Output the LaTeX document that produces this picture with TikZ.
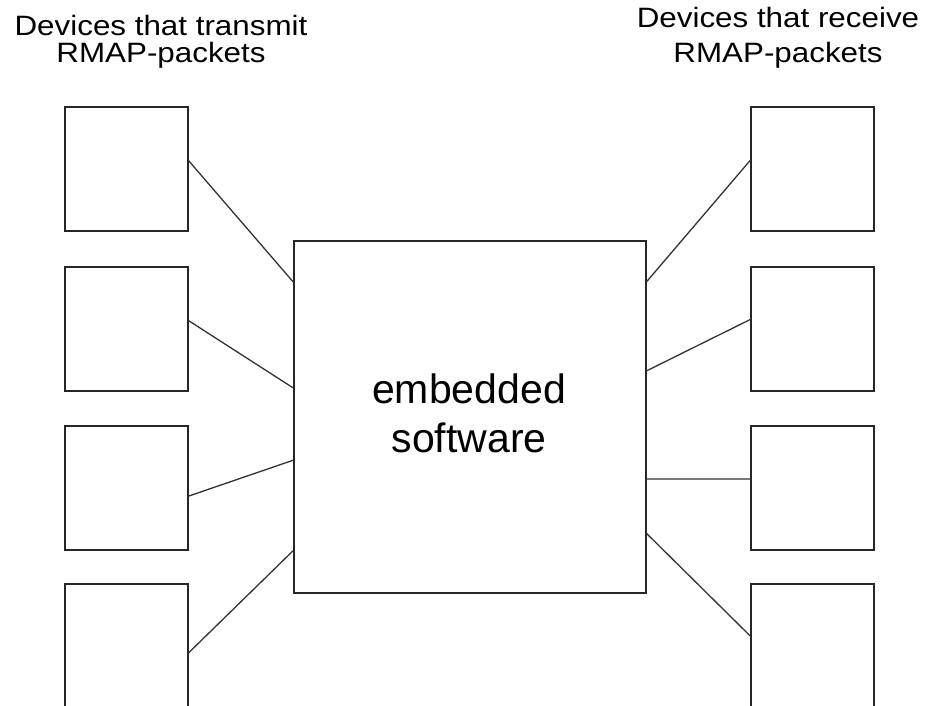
\documentclass[tikz,border=0pt]{standalone}
\usepackage{fontspec}
\setmainfont{Liberation Sans}
\newfontfamily\titlefont[FakeStretch=1.12]{Liberation Sans}
\usetikzlibrary{calc}
\begin{document}
\begin{tikzpicture}[x=1pt,y=-1pt,
  device/.style={draw=black!85,line width=1.6pt,minimum width=123pt,minimum height=124pt,inner sep=0pt,anchor=north west},
  core/.style={draw=black!85,line width=1.6pt,minimum width=352pt,minimum height=352pt,inner sep=0pt,anchor=north west},
  wire/.style={draw=black!80,line width=1.3pt},
  title/.style={font=\titlefont\fontsize{28}{27}\selectfont,align=center,inner sep=0pt,anchor=base}]
\useasboundingbox (0,0) rectangle (929,706);
\fill[white] (0,0) rectangle (929,706);
% left devices
\node[device] (L1) at (64,106) {};
\node[device] (L2) at (64,266) {};
\node[device] (L3) at (64,425) {};
\node[device] (L4) at (64,583) {};
% right devices
\node[device] (R1) at (750,106) {};
\node[device] (R2) at (750,266) {};
\node[device] (R3) at (750,425) {};
\node[device] (R4) at (750,583) {};
% central box
\node[core] (C) at (293,240) {};
\node[font=\fontsize{41}{49}\selectfont,align=center,inner sep=0pt,anchor=base] (CT) at (469,452) {embedded\\software};
% titles
\node[title] (TL) at (161,63) {Devices that transmit\\RMAP-packets};
\node[title] (TR) at (778,63) {Devices that receive\\[8pt]RMAP-packets};
% wires left
\draw[wire] ($(L1.north east)!0.435!(L1.south east)$) -- ($(C.north west)!0.118!(C.south west)$);
\draw[wire] ($(L2.north east)!0.435!(L2.south east)$) -- ($(C.north west)!0.418!(C.south west)$);
\draw[wire] ($(L3.north east)!0.566!(L3.south east)$) -- ($(C.north west)!0.623!(C.south west)$);
\draw[wire] ($(L4.north east)!0.556!(L4.south east)$) -- ($(C.north west)!0.879!(C.south west)$);
% wires right
\draw[wire] ($(R1.north west)!0.435!(R1.south west)$) -- ($(C.north east)!0.118!(C.south east)$);
\draw[wire] ($(R2.north west)!0.427!(R2.south west)$) -- ($(C.north east)!0.37!(C.south east)$);
\draw[wire] ($(R3.north west)!0.43!(R3.south west)$) -- ($(C.north east)!0.676!(C.south east)$);
\draw[wire] ($(R4.north west)!0.42!(R4.south west)$) -- ($(C.north east)!0.83!(C.south east)$);
\end{tikzpicture}
\end{document}
